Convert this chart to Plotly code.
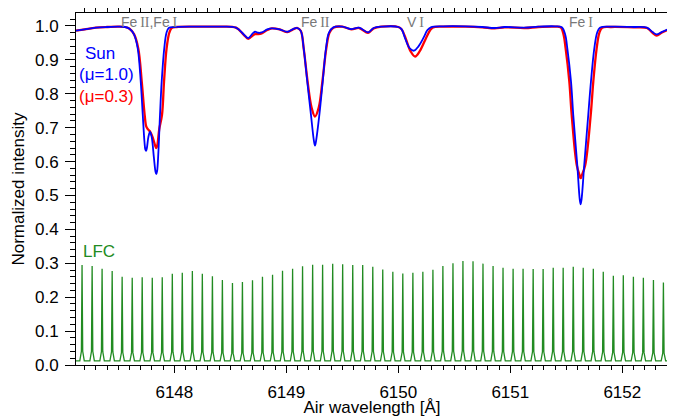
import numpy as np
import plotly.graph_objects as go

# ---- Solar spectrum, disk centre (mu = 1.0) ----
sun10_wl = [6147.122, 6147.20, 6147.30, 6147.40, 6147.50, 6147.56, 6147.60, 6147.64,
            6147.673, 6147.700, 6147.718, 6147.733, 6147.741, 6147.748, 6147.755, 6147.768, 6147.783, 6147.798,
            6147.818, 6147.832, 6147.839, 6147.846, 6147.858, 6147.872, 6147.887, 6147.910, 6147.930, 6147.950,
            6148.00, 6148.20, 6148.40, 6148.55, 6148.62, 6148.66, 6148.70, 6148.72, 6148.75,
            6148.78, 6148.83, 6148.87, 6148.94, 6149.01, 6149.06, 6149.10, 6149.13, 6149.155,
            6149.187, 6149.220, 6149.246, 6149.256, 6149.266, 6149.295, 6149.325, 6149.354, 6149.38, 6149.42,
            6149.50, 6149.58, 6149.65, 6149.73, 6149.78, 6149.85, 6150.00, 6150.03, 6150.06,
            6150.10, 6150.14, 6150.18, 6150.223, 6150.26, 6150.29, 6150.40, 6150.60, 6150.75,
            6150.86, 6150.95, 6151.13, 6151.25, 6151.40, 6151.46, 6151.49, 6151.509, 6151.542,
            6151.562, 6151.598, 6151.620, 6151.628, 6151.636, 6151.660, 6151.696, 6151.720, 6151.750, 6151.775,
            6151.80, 6151.90, 6152.10, 6152.22, 6152.27, 6152.307, 6152.35, 6152.408]
sun10_int = [0.986, 0.990, 0.995, 0.997, 0.998, 0.997, 0.992, 0.975,
             0.934, 0.836, 0.738, 0.660, 0.636, 0.632, 0.640, 0.672, 0.688, 0.672,
             0.610, 0.570, 0.563, 0.571, 0.630, 0.738, 0.836, 0.934, 0.980, 0.994,
             0.997, 0.998, 0.998, 0.995, 0.975, 0.964, 0.978, 0.983, 0.980,
             0.981, 0.990, 0.993, 0.990, 0.983, 0.991, 0.994, 0.985, 0.934,
             0.836, 0.738, 0.662, 0.647, 0.662, 0.738, 0.836, 0.934, 0.980, 0.996,
             0.998, 0.991, 0.995, 0.981, 0.994, 0.998, 0.997, 0.990, 0.964,
             0.935, 0.927, 0.940, 0.964, 0.988, 0.996, 0.999, 0.999, 0.997,
             0.994, 0.997, 0.995, 0.998, 0.999, 0.996, 0.975, 0.934, 0.836,
             0.738, 0.590, 0.488, 0.474, 0.488, 0.590, 0.738, 0.836, 0.934, 0.980,
             0.995, 0.998, 0.997, 0.995, 0.982, 0.975, 0.982, 0.990]

# ---- Solar spectrum towards the limb (mu = 0.3) ----
sun03_wl = [6147.122, 6147.20, 6147.30, 6147.40, 6147.50, 6147.56, 6147.60, 6147.64,
            6147.678, 6147.709, 6147.735, 6147.750, 6147.765, 6147.785, 6147.810, 6147.830, 6147.839,
            6147.848, 6147.865, 6147.890, 6147.908, 6147.931, 6147.955, 6147.976, 6148.02, 6148.20,
            6148.40, 6148.55, 6148.62, 6148.66, 6148.70, 6148.72, 6148.75, 6148.78, 6148.83,
            6148.87, 6148.94, 6149.01, 6149.06, 6149.10, 6149.13, 6149.155, 6149.19, 6149.225,
            6149.256, 6149.29, 6149.322, 6149.357, 6149.385, 6149.42, 6149.50, 6149.58,
            6149.65, 6149.73, 6149.78, 6149.85, 6150.00, 6150.03, 6150.065, 6150.11, 6150.15,
            6150.19, 6150.247, 6150.285, 6150.31, 6150.40, 6150.60, 6150.75, 6150.86, 6150.95,
            6151.13, 6151.25, 6151.40, 6151.45, 6151.475, 6151.494, 6151.527, 6151.548,
            6151.593, 6151.620, 6151.628, 6151.637, 6151.669, 6151.718, 6151.741, 6151.771, 6151.795, 6151.82,
            6151.90, 6152.10, 6152.22, 6152.27, 6152.307, 6152.35, 6152.408]
sun03_int = [0.986, 0.990, 0.995, 0.997, 0.998, 0.997, 0.992, 0.976,
             0.934, 0.836, 0.738, 0.703, 0.695, 0.688, 0.668, 0.646, 0.640,
             0.648, 0.695, 0.738, 0.836, 0.934, 0.980, 0.994, 0.997, 0.998,
             0.998, 0.995, 0.974, 0.962, 0.972, 0.976, 0.976, 0.978, 0.988,
             0.993, 0.990, 0.982, 0.990, 0.994, 0.985, 0.934, 0.836, 0.760,
             0.733, 0.760, 0.836, 0.934, 0.980, 0.995, 0.998, 0.990,
             0.994, 0.980, 0.993, 0.998, 0.997, 0.990, 0.964, 0.925, 0.910,
             0.925, 0.964, 0.988, 0.996, 0.998, 0.998, 0.996, 0.993, 0.996,
             0.994, 0.997, 0.998, 0.996, 0.975, 0.934, 0.836, 0.738,
             0.590, 0.558, 0.551, 0.558, 0.590, 0.738, 0.836, 0.934, 0.980, 0.995,
             0.997, 0.996, 0.994, 0.980, 0.972, 0.980, 0.989]

# ---- Laser frequency comb: peak wavelengths and peak heights ----
lfc_peak_wl = [6147.176, 6147.266, 6147.355, 6147.445, 6147.534, 6147.624, 6147.713, 6147.803,
               6147.892, 6147.982, 6148.071, 6148.161, 6148.250, 6148.340, 6148.429, 6148.519,
               6148.608, 6148.698, 6148.787, 6148.877, 6148.966, 6149.056, 6149.145, 6149.235,
               6149.324, 6149.414, 6149.503, 6149.593, 6149.682, 6149.772, 6149.861, 6149.951,
               6150.040, 6150.130, 6150.219, 6150.309, 6150.398, 6150.488, 6150.577, 6150.667,
               6150.756, 6150.846, 6150.935, 6151.025, 6151.114, 6151.204, 6151.293, 6151.383,
               6151.472, 6151.562, 6151.651, 6151.741, 6151.830, 6151.920, 6152.009, 6152.099,
               6152.188, 6152.278, 6152.367]
lfc_peak_int = [0.295, 0.292, 0.284, 0.277, 0.260, 0.257, 0.259, 0.257, 0.259, 0.269,
                0.272, 0.277, 0.269, 0.262, 0.251, 0.242, 0.245, 0.250, 0.260, 0.266,
                0.278, 0.284, 0.291, 0.296, 0.296, 0.299, 0.297, 0.295, 0.295, 0.290,
                0.282, 0.275, 0.270, 0.272, 0.275, 0.281, 0.292, 0.300, 0.307, 0.306,
                0.299, 0.292, 0.287, 0.284, 0.284, 0.283, 0.283, 0.287, 0.287, 0.290,
                0.287, 0.284, 0.275, 0.263, 0.265, 0.260, 0.257, 0.251, 0.243]
lfc_base = 0.012

x_tick_vals = [6148, 6149, 6150, 6151, 6152]
y_tick_vals = [0.0, 0.1, 0.2, 0.3, 0.4, 0.5, 0.6, 0.7, 0.8, 0.9, 1.0]

SERIF = "<span style='font-family:Liberation Serif'>%s</span>"
line_labels = ["Fe\u2009" + SERIF % "II" + ",Fe\u2009" + SERIF % "I",
               "Fe\u2009" + SERIF % "II",
               "V\u2009" + SERIF % "I",
               "Fe\u2009" + SERIF % "I"]
line_label_wl = [6147.776, 6149.260, 6150.153, 6151.631]

# build comb line: narrow spike for every peak (shape = style)
prof_off = np.array([-0.02, -0.006, 0.0, 0.006, 0.02])
prof_frac = np.array([0.0, 0.10, 1.0, 0.10, 0.0])
lx, ly = [], []
for p, h in zip(lfc_peak_wl, lfc_peak_int):
    lx.extend(list(p + prof_off))
    ly.extend(list(lfc_base + prof_frac * (h - lfc_base)))
lx = [6147.122] + lx + [6152.408]
ly = [lfc_base] + ly + [lfc_base]

fig = go.Figure()
fig.add_trace(go.Scatter(x=lx, y=ly, mode="lines",
                         line=dict(color="rgb(34,139,34)", width=1.3), hoverinfo="skip"))
fig.add_trace(go.Scatter(x=sun03_wl, y=sun03_int, mode="lines",
                         line=dict(color="rgb(255,0,0)", width=2.3, shape="spline", smoothing=1.0)))
fig.add_trace(go.Scatter(x=sun10_wl, y=sun10_int, mode="lines",
                         line=dict(color="rgb(0,0,255)", width=1.8, shape="spline", smoothing=1.0)))

ann = []
for t, w in zip(line_labels, line_label_wl):
    ann.append(dict(x=w, y=1.013, xref="x", yref="y", text=t, showarrow=False,
                    xanchor="center", yanchor="middle",
                    font=dict(size=14, color="rgb(120,120,120)")))
ann.append(dict(x=6147.334, y=0.919, text="Sun", showarrow=False, xanchor="center",
                yanchor="middle", font=dict(size=17, color="rgb(0,0,255)")))
ann.append(dict(x=6147.393, y=0.858, text="(\u03bc=1.0)", showarrow=False, xanchor="center",
                yanchor="middle", font=dict(size=17, color="rgb(0,0,255)")))
ann.append(dict(x=6147.393, y=0.792, text="(\u03bc=0.3)", showarrow=False, xanchor="center",
                yanchor="middle", font=dict(size=17, color="rgb(255,0,0)")))
ann.append(dict(x=6147.323, y=0.336, text="LFC", showarrow=False, xanchor="center",
                yanchor="middle", font=dict(size=17, color="rgb(34,139,34)")))

# page body has an 8px default margin, so the figure is sized to fit the window
fig.update_layout(
    width=667, height=409,
    margin=dict(l=68, r=7, t=5, b=52),
    plot_bgcolor="white", paper_bgcolor="white",
    showlegend=False,
    font=dict(family="Liberation Sans, Arial, sans-serif", size=17, color="black"),
    annotations=ann,
)
fig.update_xaxes(
    range=[6147.122, 6152.408], tickvals=x_tick_vals, ticktext=[str(v) for v in x_tick_vals],
    ticks="outside", ticklen=7, tickwidth=1, tickcolor="black",
    showline=True, linecolor="black", linewidth=1, mirror="allticks",
    showgrid=False, zeroline=False, ticklabelstandoff=5, automargin=False,
    minor=dict(dtick=0.1, tick0=6148, ticks="outside", ticklen=4, tickcolor="black", showgrid=False),
    title=dict(text="Air wavelength [Å]", standoff=9, font=dict(size=17)),
)
fig.update_yaxes(
    range=[0, 1.0383], tickvals=y_tick_vals, ticktext=["%.1f" % v for v in y_tick_vals],
    ticks="outside", ticklen=10, tickwidth=1, tickcolor="black",
    showline=True, linecolor="black", linewidth=1, mirror="allticks",
    showgrid=False, zeroline=False, automargin=False, ticklabelstandoff=3,
    minor=dict(dtick=0.02, tick0=0, ticks="outside", ticklen=5, tickcolor="black", showgrid=False),
    title=dict(text="Normalized intensity", standoff=6, font=dict(size=17)),
)
fig.write_html("out.html")
